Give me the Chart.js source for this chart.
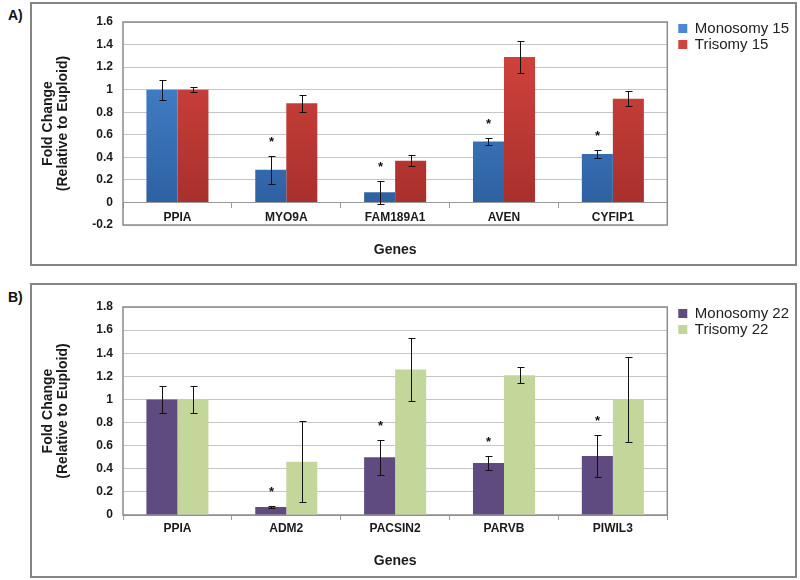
<!DOCTYPE html>
<html>
<head>
<meta charset="utf-8">
<script src="https://cdn.jsdelivr.net/npm/chart.js@4.4.1/dist/chart.umd.min.js"></script>
<style>
body { margin: 0; background: #fff; font-family: "Liberation Sans", Arial, sans-serif; }
#page { position: relative; width: 800px; height: 580px; }
.panel { position: absolute; left: 30px; width: 767px; box-sizing: border-box; border: 2px solid #858585; }
#panelA { top: 2px; height: 264px; }
#panelB { top: 283px; height: 295px; }
.panel canvas { display: block; }
.tag { position: absolute; left: 8px; font-weight: bold; font-size: 14px; color: #111; }
</style>
</head>
<body>
<div id="page">
  <div class="tag" style="top:7px">A)</div>
  <div class="tag" style="top:289px">B)</div>
  <div class="panel" id="panelA"><canvas id="chartA" width="763" height="260"></canvas></div>
  <div class="panel" id="panelB"><canvas id="chartB" width="763" height="291"></canvas></div>
</div>
<script>
// panel A - chromosome 15
const genes15 = ['PPIA', 'MYO9A', 'FAM189A1', 'AVEN', 'CYFIP1'];
const mono15 = [1.0, 0.29, 0.09, 0.54, 0.43];
const mono15Err = [0.09, 0.125, 0.10, 0.03, 0.035];
const tri15 = [1.0, 0.88, 0.37, 1.29, 0.92];
const tri15Err = [0.025, 0.075, 0.05, 0.14, 0.065];
const sig15 = [false, true, true, true, true];

// panel B - chromosome 22
const genes22 = ['PPIA', 'ADM2', 'PACSIN2', 'PARVB', 'PIWIL3'];
const mono22 = [1.0, 0.07, 0.50, 0.45, 0.51];
const mono22Err = [0.115, 0.01, 0.15, 0.06, 0.18];
const tri22 = [1.0, 0.46, 1.26, 1.21, 1.0];
const tri22Err = [0.115, 0.35, 0.275, 0.07, 0.37];
const sig22 = [false, true, true, true, true];

const FONT = '"Liberation Sans", Arial, sans-serif';
Chart.defaults.font.family = FONT;
Chart.defaults.color = '#1a1a1a';

// error bars + significance stars
const errorBars = {
    id: 'errorBars',
    afterDatasetsDraw(chart) {
        const ctx = chart.ctx;
        const y = chart.scales.y;
        chart.data.datasets.forEach((ds, i) => {
            chart.getDatasetMeta(i).data.forEach((bar, j) => {
                const v = ds.data[j], e = ds.errors[j];
                const top = Math.round(y.getPixelForValue(v + e)) + 0.5;
                const bot = Math.round(y.getPixelForValue(v - e)) + 0.5;
                const x = Math.round(bar.x) + 0.5;
                ctx.save();
                ctx.strokeStyle = '#111';
                ctx.lineWidth = 1;
                ctx.beginPath();
                ctx.moveTo(x, top); ctx.lineTo(x, bot);
                ctx.moveTo(x - 3, top); ctx.lineTo(x + 4, top);
                ctx.moveTo(x - 3, bot); ctx.lineTo(x + 4, bot);
                ctx.stroke();
                if (ds.stars && ds.stars[j]) {
                    ctx.fillStyle = '#111';
                    ctx.font = 'bold 13px ' + FONT;
                    ctx.textAlign = 'center';
                    ctx.fillText('*', x, top - 11);
                }
                ctx.restore();
            });
        });
    }
};

// grey frame round the plot area
const plotFrame = {
    id: 'plotFrame',
    beforeDatasetsDraw(chart) {
        const a = chart.chartArea, ctx = chart.ctx;
        ctx.save();
        ctx.strokeStyle = '#8c8c8c';
        ctx.lineWidth = 1.5;
        ctx.strokeRect(a.left, a.top, a.right - a.left, a.bottom - a.top);
        ctx.restore();
    }
};

// move legend a little away from the plot
const legendNudge = {
    id: 'legendNudge',
    afterLayout(chart) {
        const lg = chart.legend;
        if (!lg) return;
        lg.left += 10; lg.right += 10;
        lg.top -= 2; lg.bottom -= 2;
    }
};

function vGrad(top, bottom) {
    return function(c) {
        const a = c.chart.chartArea;
        if (!a) return bottom;
        const g = c.chart.ctx.createLinearGradient(0, a.top, 0, a.bottom);
        g.addColorStop(0, top);
        g.addColorStop(1, bottom);
        return g;
    };
}

function makeChart(id, cfg) {
    return new Chart(document.getElementById(id), {
        type: 'bar',
        data: {
            labels: cfg.labels,
            datasets: [
                { label: cfg.names[0], data: cfg.mono, errors: cfg.monoErr, stars: cfg.sig,
                  backgroundColor: cfg.colors[0], borderWidth: 0 },
                { label: cfg.names[1], data: cfg.tri, errors: cfg.triErr,
                  backgroundColor: cfg.colors[1], borderWidth: 0 },
            ]
        },
        options: {
            responsive: false,
            devicePixelRatio: 1,
            animation: false,
            categoryPercentage: 0.57,
            barPercentage: 1.0,
            layout: { padding: cfg.padding },
            plugins: {
                tooltip: { enabled: false },
                legend: {
                    position: 'right',
                    align: 'start',
                    labels: { boxWidth: 9, boxHeight: 9, padding: 1, color: '#222',
                              font: { size: 15 } }
                }
            },
            scales: {
                x: cfg.xScale,
                y: {
                    min: cfg.yMin, max: cfg.yMax,
                    ticks: { stepSize: 0.2, padding: 10, font: { size: 12, weight: 'bold' },
                             callback: v => String(+v.toFixed(1)) },
                    grid: { color: '#c6c6c6', drawTicks: false },
                    border: { display: false },
                    title: { display: true, text: ['Fold Change', '(Relative to Euploid)'],
                             font: { size: 14, weight: 'bold', lineHeight: 1.1 },
                             padding: { top: 8, bottom: 0 } },
                    afterFit(s) { s.width = 91; }
                }
            }
        },
        plugins: [plotFrame, errorBars, legendNudge]
    });
}

const xBase = {
    offset: true,
    grid: { offset: true, drawOnChartArea: false, drawTicks: true, tickLength: 5, color: '#9a9a9a' },
    border: { color: '#9a9a9a' },
    title: { display: true, text: 'Genes', font: { size: 14, weight: 'bold' } }
};

makeChart('chartA', {
    labels: genes15,
    names: ['Monosomy 15', 'Trisomy 15'],
    mono: mono15, monoErr: mono15Err, tri: tri15, triErr: tri15Err, sig: sig15,
    colors: [vGrad('#4a8ad6', '#2b5c9c'), vGrad('#d8463f', '#a32d2a')],
    yMin: -0.2, yMax: 1.6,
    padding: { top: 18, bottom: 39, left: 0, right: 6 },
    xScale: Object.assign({}, xBase, {
        position: { y: 0 },
        ticks: { padding: 3, font: { size: 12, weight: 'bold' } },
        title: Object.assign({}, xBase.title, { padding: { top: 0, bottom: 0 } }),
        afterFit(s) { s.height = 56; }
    })
});

makeChart('chartB', {
    labels: genes22,
    names: ['Monosomy 22', 'Trisomy 22'],
    mono: mono22, monoErr: mono22Err, tri: tri22, triErr: tri22Err, sig: sig22,
    colors: ['#5f4b7f', '#c4d79b'],
    yMin: 0, yMax: 1.8,
    padding: { top: 22, bottom: 0, left: 0, right: 6 },
    xScale: Object.assign({}, xBase, {
        position: 'bottom',
        ticks: { padding: 1, font: { size: 12, weight: 'bold' } },
        title: Object.assign({}, xBase.title, { padding: { top: 0, bottom: 6 } }),
        afterFit(s) { s.height = 61; }
    })
});
</script>
</body>
</html>
